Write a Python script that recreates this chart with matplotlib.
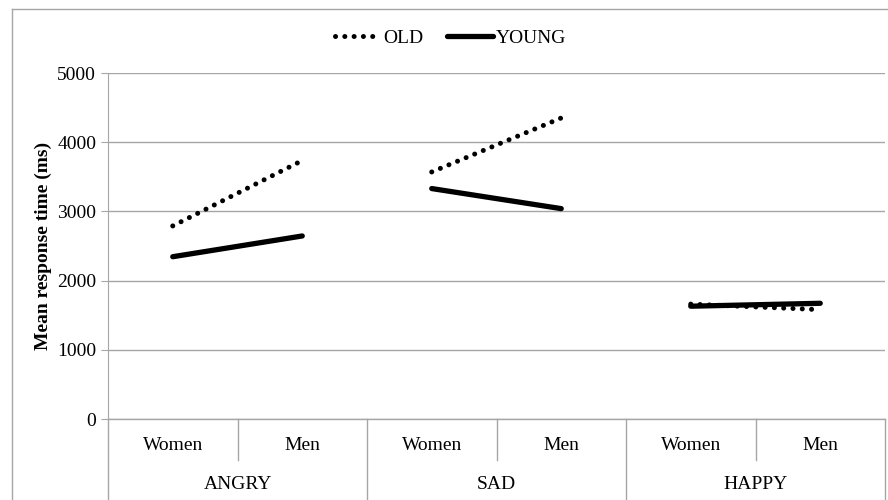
import matplotlib.pyplot as plt
import numpy as np
from matplotlib.lines import Line2D

plt.rcParams['font.family'] = ['Liberation Serif', 'DejaVu Serif']

# data
emotions = ['ANGRY', 'SAD', 'HAPPY']
genders = ['Women', 'Men']
old_rt = [2790, 3735, 3570, 4350, 1660, 1580]
young_rt = [2345, 2645, 3330, 3040, 1630, 1672]

fig = plt.figure(figsize=(8.88, 5), dpi=100)
ax = fig.add_axes([108 / 888, 81 / 500, 777 / 888, 346 / 500])

grey = '#a6a6a6'
x = np.arange(len(old_rt))

# one segment per emotion, not joined between groups
for g in range(len(emotions)):
    xs = x[2 * g:2 * g + 2]
    ax.plot(xs, old_rt[2 * g:2 * g + 2], color='black', lw=3.6,
            linestyle=(0, (0.01, 1.85)), dash_capstyle='round',
            label='OLD' if g == 0 else None)
    ax.plot(xs, young_rt[2 * g:2 * g + 2], color='black', lw=3.8,
            solid_capstyle='round', label='YOUNG' if g == 0 else None)

ax.set_xlim(-0.5, len(old_rt) - 0.5)
ax.set_ylim(0, 5000)
ax.set_yticks(np.arange(0, 5001, 1000))
ax.yaxis.grid(True, color=grey, lw=1)
ax.set_axisbelow(True)
for s in ['top', 'right', 'bottom']:
    ax.spines[s].set_visible(False)
ax.spines['left'].set_color(grey)
ax.tick_params(axis='y', colors=grey, labelcolor='black', labelsize=14,
               length=5, direction='out')
ax.set_xticks([])
ax.set_ylabel('Mean response time (ms)', fontsize=14, fontweight='bold',
              labelpad=4)

# category axis with nested labels
trans = ax.get_xaxis_transform()
ax.plot([-0.5, len(old_rt) - 0.5], [0, 0], color=grey, lw=1,
        transform=trans, clip_on=False)
for i, lab in enumerate(genders * len(emotions)):
    ax.text(i, -0.078, lab, transform=trans, ha='center', va='center',
            fontsize=14)
for g, emo in enumerate(emotions):
    ax.text(2 * g + 0.5, -0.19, emo, transform=trans, ha='center',
            va='center', fontsize=14)
    ax.plot([2 * g + 0.5, 2 * g + 0.5], [0, -0.118], color=grey, lw=1,
            transform=trans, clip_on=False)
for b in np.arange(-0.5, len(old_rt), 2):
    ax.plot([b, b], [0, -0.25], color=grey, lw=1, transform=trans,
            clip_on=False)

# outer chart frame
fig.add_artist(Line2D([12 / 888, 12 / 888], [0, 491 / 500], color=grey, lw=1))
fig.add_artist(Line2D([12 / 888, 1], [491 / 500, 491 / 500], color=grey, lw=1))

fig.legend(loc='center', bbox_to_anchor=(0.507, 0.924), ncol=2,
           frameon=False, fontsize=14, handlelength=2.4, handletextpad=0.1,
           columnspacing=1.2)

fig.savefig('out.png', dpi=100)
